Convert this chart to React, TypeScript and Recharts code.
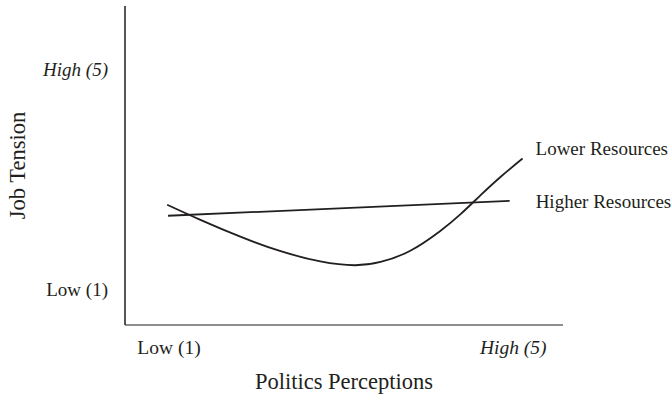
import { LineChart, Line, XAxis, YAxis } from "recharts";

const tickValues = [1, 5];
const tickLabels = ["Low (1)", "High (5)"];
const tickItalic = [false, true];

const lowerX = [0.99, 1.37, 1.84, 2.3, 2.77, 3.17, 3.47, 3.81, 4.16, 4.4, 4.63, 4.86, 5.12];
const lowerY = [2.55, 2.28, 1.97, 1.71, 1.52, 1.45, 1.51, 1.71, 2.07, 2.38, 2.72, 3.05, 3.39];

const higherX = [1.0, 4.97];
const higherY = [2.35, 2.62];

const lowerData = lowerX.map((x, i) => ({ x, y: lowerY[i] }));
const higherData = higherX.map((x, i) => ({ x, y: higherY[i] }));

const FONT = "'Liberation Serif', 'Times New Roman', serif";
const INK = "#231f20";

const labelFor = (value: number) => {
  const i = tickValues.indexOf(value);
  return { text: tickLabels[i], italic: tickItalic[i] };
};

const YTick = ({ x, y, payload }: any) => {
  const { text, italic } = labelFor(payload.value);
  return (
    <text x={x} y={y} dy="0.32em" textAnchor="end" fontFamily={FONT} fontSize={19}
      fontStyle={italic ? "italic" : "normal"} fill={INK}>
      {text}
    </text>
  );
};

const XTick = ({ x, y, payload }: any) => {
  const { text, italic } = labelFor(payload.value);
  return (
    <text x={x + 1} y={y} textAnchor="middle" fontFamily={FONT} fontSize={19.5}
      fontStyle={italic ? "italic" : "normal"} fill={INK}>
      {text}
    </text>
  );
};

const endLabel = (name: string, count: number, dx: number, dy: number) => (props: any) => {
  if (props.index !== count - 1) return <g />;
  return (
    <text x={props.x + dx} y={props.y + dy} fontFamily={FONT} fontSize={19} fill={INK}>
      {name}
    </text>
  );
};

const YTitle = ({ viewBox }: any) => {
  const cx = 17;
  const cy = viewBox.y + viewBox.height / 2;
  return (
    <text x={cx} y={cy} textAnchor="middle" dominantBaseline="central" fontFamily={FONT}
      fontSize={22.5} fill={INK} transform={`rotate(-90, ${cx}, ${cy})`}>
      Job Tension
    </text>
  );
};

const XTitle = ({ viewBox }: any) => (
  <text x={viewBox.x + viewBox.width / 2} y={389} textAnchor="middle" fontFamily={FONT}
    fontSize={22.5} fill={INK}>
    Politics Perceptions
  </text>
);

export default function App() {
  return (
    <div style={{ position: "absolute", left: 0, top: 0, width: 672, height: 397, background: "#fff" }}>
      <LineChart width={672} height={397} margin={{ top: 6, right: 109, bottom: 0, left: 0 }}>
        <XAxis
          type="number"
          dataKey="x"
          domain={[0.5, 5.59]}
          ticks={tickValues}
          allowDataOverflow
          height={72}
          tickLine={false}
          tickSize={0}
          tickMargin={29}
          axisLine={{ stroke: "#6a6a6a", strokeWidth: 1.5 }}
          tick={<XTick />}
          label={<XTitle />}
        />
        <YAxis
          type="number"
          dataKey="y"
          domain={[0.364, 6.164]}
          ticks={tickValues}
          allowDataOverflow
          width={125}
          tickLine={false}
          tickSize={0}
          tickMargin={17}
          axisLine={{ stroke: "#1e1e1e", strokeWidth: 1.5 }}
          tick={<YTick />}
          label={<YTitle />}
        />
        <Line
          data={higherData}
          dataKey="y"
          type="linear"
          dot={false}
          stroke={INK}
          strokeWidth={1.8}
          isAnimationActive={false}
          label={endLabel("Higher Resources", higherData.length, 26, 7)}
        />
        <Line
          data={lowerData}
          dataKey="y"
          type="natural"
          dot={false}
          stroke={INK}
          strokeWidth={1.8}
          isAnimationActive={false}
          label={endLabel("Lower Resources", lowerData.length, 13, -4)}
        />
      </LineChart>
    </div>
  );
}
